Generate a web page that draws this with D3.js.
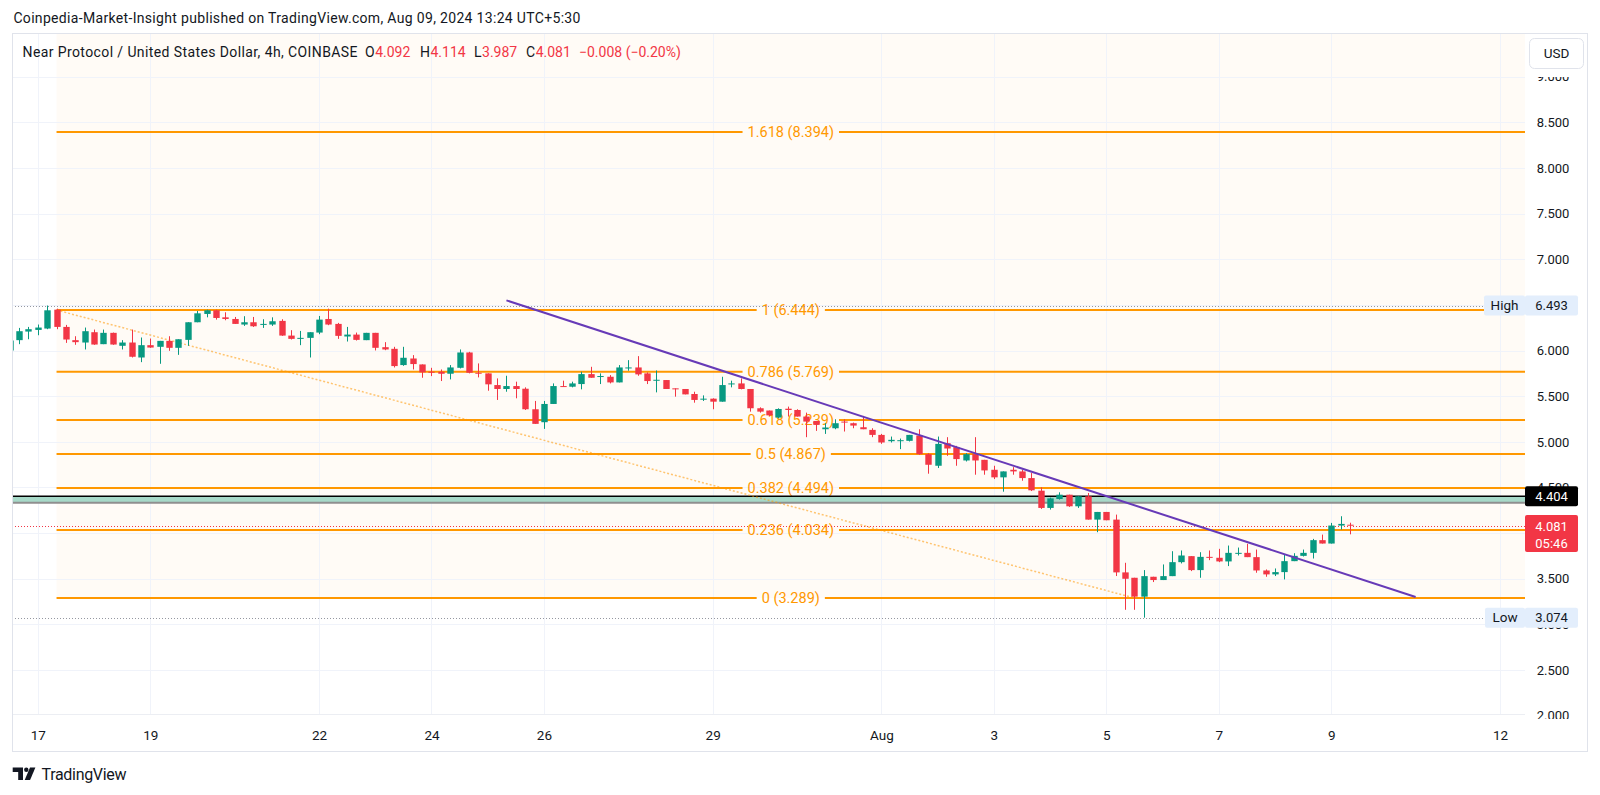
<!DOCTYPE html>
<html><head><meta charset="utf-8">
<script src="https://cdn.jsdelivr.net/npm/d3@7"></script>
<style>
body{margin:0;background:#fff;}
svg{display:block;font-family:Roboto,"Noto Sans",sans-serif;}
</style>
</head><body>
<svg id="c" width="1600" height="795"></svg>
<script>
// ---------- DATA ----------
const times = [
"07-16 12","07-16 16","07-16 20",
"07-17 00","07-17 04","07-17 08","07-17 12","07-17 16","07-17 20",
"07-18 00","07-18 04","07-18 08","07-18 12","07-18 16","07-18 20",
"07-19 00","07-19 04","07-19 08","07-19 12","07-19 16","07-19 20",
"07-20 00","07-20 04","07-20 08","07-20 12","07-20 16","07-20 20",
"07-21 00","07-21 04","07-21 08","07-21 12","07-21 16","07-21 20",
"07-22 00","07-22 04","07-22 08","07-22 12","07-22 16","07-22 20",
"07-23 00","07-23 04","07-23 08","07-23 12","07-23 16","07-23 20",
"07-24 00","07-24 04","07-24 08","07-24 12","07-24 16","07-24 20",
"07-25 00","07-25 04","07-25 08","07-25 12","07-25 16","07-25 20",
"07-26 00","07-26 04","07-26 08","07-26 12","07-26 16","07-26 20",
"07-27 00","07-27 04","07-27 08","07-27 12","07-27 16","07-27 20",
"07-28 00","07-28 04","07-28 08","07-28 12","07-28 16","07-28 20",
"07-29 00","07-29 04","07-29 08","07-29 12","07-29 16","07-29 20",
"07-30 00","07-30 04","07-30 08","07-30 12","07-30 16","07-30 20",
"07-31 00","07-31 04","07-31 08","07-31 12","07-31 16","07-31 20",
"08-01 00","08-01 04","08-01 08","08-01 12","08-01 16","08-01 20",
"08-02 00","08-02 04","08-02 08","08-02 12","08-02 16","08-02 20",
"08-03 00","08-03 04","08-03 08","08-03 12","08-03 16","08-03 20",
"08-04 00","08-04 04","08-04 08","08-04 12","08-04 16","08-04 20",
"08-05 00","08-05 04","08-05 08","08-05 12","08-05 16","08-05 20",
"08-06 00","08-06 04","08-06 08","08-06 12","08-06 16","08-06 20",
"08-07 00","08-07 04","08-07 08","08-07 12","08-07 16","08-07 20",
"08-08 00","08-08 04","08-08 08","08-08 12","08-08 16","08-08 20",
"08-09 00","08-09 04","08-09 08"
];
const open = [
6.000,
6.114,6.208,6.226,6.241,6.448,6.259,6.114,6.088,6.201,6.070,
6.194,6.052,6.088,5.924,6.059,6.041,6.106,6.030,6.117,6.310,
6.401,6.441,6.364,6.346,6.285,6.310,6.281,6.285,6.325,6.164,
6.128,6.139,6.197,6.346,6.292,6.154,6.175,6.114,6.194,6.037,
6.019,5.841,5.913,5.848,5.768,5.768,5.746,5.811,5.979,5.757,
5.750,5.622,5.579,5.611,5.582,5.357,5.215,5.415,5.611,5.604,
5.633,5.742,5.710,5.713,5.651,5.808,5.815,5.750,5.673,5.677,
5.586,5.579,5.524,5.462,5.473,5.440,5.633,5.640,5.579,5.368,
5.343,5.266,5.363,5.349,5.277,5.229,5.138,5.149,5.222,5.204,
5.160,5.131,5.076,5.007,5.011,5.011,5.069,4.865,4.738,4.985,
4.942,4.796,4.865,4.803,4.694,4.611,4.694,4.676,4.603,4.465,
4.276,4.374,4.421,4.294,4.403,4.148,4.232,4.148,3.570,3.511,
3.304,3.522,3.486,3.529,3.682,3.748,3.595,3.740,3.730,3.690,
3.773,3.784,3.737,3.591,3.548,3.573,3.693,3.751,3.784,3.923,
3.886,4.083,4.092
];
const high = [
6.114,
6.248,6.259,6.285,6.493,6.459,6.281,6.157,6.252,6.230,6.230,
6.197,6.114,6.230,6.143,6.132,6.106,6.157,6.124,6.310,6.434,
6.448,6.448,6.419,6.368,6.376,6.368,6.343,6.364,6.343,6.223,
6.215,6.201,6.379,6.459,6.303,6.259,6.197,6.194,6.194,6.092,
6.041,6.041,5.950,5.848,5.811,5.793,5.841,6.012,5.986,5.859,
5.750,5.695,5.724,5.659,5.597,5.448,5.448,5.640,5.670,5.659,
5.768,5.822,5.750,5.731,5.841,5.895,5.939,5.761,5.782,5.677,
5.586,5.579,5.549,5.509,5.477,5.713,5.670,5.695,5.579,5.378,
5.343,5.367,5.386,5.357,5.320,5.229,5.204,5.247,5.247,5.211,
5.284,5.149,5.087,5.058,5.036,5.076,5.138,4.876,5.058,5.051,
4.956,4.876,5.051,4.803,4.738,4.676,4.723,4.694,4.658,4.501,
4.389,4.447,4.421,4.403,4.440,4.232,4.232,4.203,3.675,3.511,
3.595,3.522,3.657,3.802,3.810,3.748,3.791,3.810,3.828,3.864,
3.842,3.883,3.820,3.602,3.613,3.766,3.780,3.820,3.937,3.984,
4.112,4.185,4.114
];
const low = [
5.986,
6.070,6.124,6.168,6.234,6.234,6.084,6.063,6.012,6.063,6.070,
6.063,6.012,5.924,5.873,6.030,5.855,5.997,5.953,6.052,6.310,
6.364,6.339,6.332,6.292,6.270,6.259,6.248,6.270,6.161,6.121,
6.059,5.924,6.179,6.278,6.128,6.099,6.110,6.114,6.001,6.004,
5.815,5.833,5.793,5.702,5.720,5.666,5.684,5.804,5.750,5.706,
5.560,5.459,5.549,5.477,5.349,5.197,5.142,5.415,5.604,5.597,
5.575,5.702,5.633,5.640,5.651,5.779,5.724,5.633,5.542,5.579,
5.495,5.520,5.429,5.448,5.357,5.440,5.597,5.575,5.331,5.320,
5.280,5.258,5.277,5.277,5.051,5.120,5.087,5.138,5.113,5.149,
5.138,5.051,4.978,4.993,4.920,5.004,4.858,4.651,4.713,4.847,
4.738,4.785,4.640,4.640,4.592,4.454,4.640,4.574,4.461,4.265,
4.258,4.367,4.287,4.276,4.148,4.010,4.141,3.530,3.160,3.160,
3.074,3.464,3.486,3.529,3.668,3.584,3.511,3.704,3.682,3.639,
3.755,3.737,3.566,3.522,3.530,3.493,3.693,3.744,3.722,3.886,
3.886,4.039,3.987
];
const close = [
6.110,
6.212,6.234,6.252,6.441,6.259,6.121,6.092,6.212,6.066,6.194,
6.066,6.088,5.932,6.059,6.033,6.106,6.030,6.124,6.310,6.408,
6.441,6.357,6.346,6.292,6.310,6.266,6.292,6.321,6.164,6.128,
6.139,6.201,6.339,6.285,6.161,6.175,6.117,6.194,6.030,6.012,
5.830,5.921,5.852,5.761,5.757,5.746,5.815,5.979,5.757,5.746,
5.630,5.579,5.611,5.579,5.357,5.197,5.415,5.611,5.604,5.640,
5.742,5.702,5.721,5.651,5.815,5.815,5.739,5.666,5.680,5.579,
5.579,5.520,5.459,5.473,5.440,5.622,5.640,5.579,5.368,5.331,
5.290,5.360,5.349,5.277,5.222,5.186,5.157,5.204,5.211,5.178,
5.138,5.076,4.993,5.022,5.018,5.076,4.865,4.749,4.978,4.927,
4.811,4.865,4.796,4.687,4.611,4.676,4.676,4.603,4.469,4.276,
4.381,4.421,4.294,4.403,4.148,4.232,4.141,3.570,3.500,3.304,
3.529,3.486,3.529,3.682,3.755,3.595,3.740,3.730,3.690,3.784,
3.784,3.737,3.591,3.548,3.573,3.693,3.751,3.784,3.923,3.886,
4.083,4.101,4.081
];
const dateTicks = ["2024-07-17","2024-07-19","2024-07-22","2024-07-24","2024-07-26","2024-07-29","2024-08-01","2024-08-03","2024-08-05","2024-08-07","2024-08-09","2024-08-12"];
const dateTickLabels = ["17","19","22","24","26","29","Aug","3","5","7","9","12"];
const priceTicks = [2,2.5,3,3.5,4,4.5,5,5.5,6,6.5,7,7.5,8,8.5,9];
const fibRatios = ["1.618","1","0.786","0.618","0.5","0.382","0.236","0"];
const fibPrices = [8.394,6.444,5.769,5.239,4.867,4.494,4.034,3.289];
const fibStart = "2024-07-17 08";
const fibTrendEnd = "2024-08-05 12";
const trendLine = {from:["2024-07-25 08",6.55], to:["2024-08-10 12",3.30]};
const zoneTop = 4.404, zoneBottom = 4.334;
const highVal = 6.493, lowVal = 3.074, lastPrice = 4.081;
const legendLetters = ["O","H","L","C"];
const legendValues = ["4.092","4.114","3.987","4.081"];
const legendChange = "\u22120.008 (\u22120.20%)";

// ---------- SETUP ----------
const parseT = d3.utcParse("%Y-%m-%d %H");
const tDates = times.map(s => parseT("2024-" + s));
const candles = tDates.map((t,i)=>({t, o:open[i], h:high[i], l:low[i], c:close[i]}));

const svg = d3.select("#c");
const L = 12, R = 1525, T = 33.5, B = 714.5;
const x = d3.scaleUtc().domain([new Date("2024-07-17T00:00:00Z"), new Date("2024-08-12T00:00:00Z")]).range([37.8, 1500]);
const y = d3.scaleLinear().domain([2, 9]).range([715.7, 76.7]);
const GREEN = "#089981", RED = "#f23645", ORANGE = "#ff9800", TXT = "#131722";

const defs = svg.append("defs");
defs.append("clipPath").attr("id","plot").append("rect").attr("x",L).attr("y",T).attr("width",R-L).attr("height",B-T);
defs.append("clipPath").attr("id","paxis").append("rect").attr("x",R).attr("y",77).attr("width",70).attr("height",642);

svg.append("rect").attr("width",1600).attr("height",795).attr("fill","#fff");

const plot = svg.append("g").attr("clip-path","url(#plot)");

// fib background
const fx0 = x(parseT(fibStart));
plot.append("rect").attr("x",fx0).attr("y",T).attr("width",R-fx0).attr("height",y(fibPrices[fibPrices.length-1])-T)
  .attr("fill","rgba(255,152,0,0.035)");

// grid
plot.append("g").selectAll("line").data(priceTicks).join("line")
  .attr("x1",L).attr("x2",R).attr("y1",d=>Math.round(y(d))+0.5).attr("y2",d=>Math.round(y(d))+0.5)
  .attr("stroke","#f0f3fa").attr("stroke-width",1);
const tickDates = dateTicks.map(s=>new Date(s+"T00:00:00Z"));
plot.append("g").selectAll("line").data(tickDates).join("line")
  .attr("y1",T).attr("y2",B).attr("x1",d=>Math.round(x(d))+0.5).attr("x2",d=>Math.round(x(d))+0.5)
  .attr("stroke","#f0f3fa").attr("stroke-width",1);

// fib levels
const fibCx = (fx0 + R)/2;
const fibG = plot.append("g");
fibPrices.forEach((p,i)=>{
  const yy = y(p);
  const txt = fibG.append("text").attr("x",fibCx).attr("y",yy).attr("dy","0.35em")
    .attr("text-anchor","middle").attr("font-size",14.5).attr("fill",ORANGE)
    .text(`${fibRatios[i]} (${p.toFixed(3)})`);
  const w = txt.node().getComputedTextLength();
  fibG.append("line").attr("x1",fx0).attr("x2",fibCx-w/2-5).attr("y1",yy).attr("y2",yy).attr("stroke",ORANGE).attr("stroke-width",2);
  fibG.append("line").attr("x1",fibCx+w/2+5).attr("x2",R).attr("y1",yy).attr("y2",yy).attr("stroke",ORANGE).attr("stroke-width",2);
});

// zone
plot.append("rect").attr("x",L).attr("width",R-L).attr("y",y(zoneTop)).attr("height",y(zoneBottom)-y(zoneTop)).attr("fill","#a7d9c8");
plot.append("line").attr("x1",L).attr("x2",R).attr("y1",y(zoneTop)).attr("y2",y(zoneTop)).attr("stroke","#000").attr("stroke-width",1.5);
plot.append("line").attr("x1",L).attr("x2",R).attr("y1",y(zoneBottom)).attr("y2",y(zoneBottom)).attr("stroke","#8f8f8f").attr("stroke-width",2);

// high/low/last dotted lines
[highVal, lowVal].forEach(v=>{
  plot.append("line").attr("x1",L).attr("x2",1484).attr("y1",Math.round(y(v))+0.5).attr("y2",Math.round(y(v))+0.5)
    .attr("stroke","#9598a1").attr("stroke-width",1).attr("stroke-dasharray","1,2");
});
plot.append("line").attr("x1",L).attr("x2",R).attr("y1",Math.round(y(lastPrice))+0.5).attr("y2",Math.round(y(lastPrice))+0.5)
  .attr("stroke",RED).attr("stroke-width",1).attr("stroke-dasharray","1,2");

// fib trend dotted line
plot.append("line").attr("x1",fx0).attr("y1",y(fibPrices[1])).attr("x2",x(parseT(fibTrendEnd))).attr("y2",y(fibPrices[7]))
  .attr("stroke","rgba(255,152,0,0.55)").attr("stroke-width",1.5).attr("stroke-dasharray","2,2");

// candles
const cg = plot.append("g");
const bw = 6.4;
cg.selectAll("line").data(candles).join("line")
  .attr("x1",d=>Math.round(x(d.t))+0.5).attr("x2",d=>Math.round(x(d.t))+0.5)
  .attr("y1",d=>y(d.h)).attr("y2",d=>y(d.l))
  .attr("stroke",d=>d.c>=d.o?GREEN:RED).attr("stroke-width",1);
cg.selectAll("rect").data(candles).join("rect")
  .attr("x",d=>Math.round(x(d.t))+0.5-bw/2).attr("width",bw)
  .attr("y",d=>y(Math.max(d.o,d.c))).attr("height",d=>Math.max(1,Math.abs(y(d.o)-y(d.c))))
  .attr("fill",d=>d.c>=d.o?GREEN:RED);

// purple trendline
plot.append("line")
  .attr("x1",x(parseT(trendLine.from[0]))).attr("y1",y(trendLine.from[1]))
  .attr("x2",x(parseT(trendLine.to[0]))).attr("y2",y(trendLine.to[1]))
  .attr("stroke","#673ab7").attr("stroke-width",2);

// x axis bottom line
svg.append("line").attr("x1",L).attr("x2",R).attr("y1",B).attr("y2",B).attr("stroke","#eceef3");

// pane border
svg.append("rect").attr("x",12.5).attr("y",33.5).attr("width",1575).attr("height",718).attr("fill","none").attr("stroke","#e0e3eb");

// price axis (labels fully hidden behind value boxes are skipped)
const hiddenTicks = [4, 6.5];
const pax = svg.append("g").attr("clip-path","url(#paxis)");
const yAxisG = pax.append("g").attr("transform","translate(1553,0)")
  .call(d3.axisRight(y).tickValues(priceTicks.filter(v=>!hiddenTicks.includes(v))).tickFormat(d3.format(".3f")).tickSize(0).tickPadding(0));
yAxisG.select(".domain").remove();
yAxisG.selectAll("text").attr("text-anchor","middle").attr("font-size",13).attr("fill",TXT)
  .attr("font-family",'Roboto,"Noto Sans",sans-serif');

// x axis
const xAxisG = svg.append("g").attr("transform","translate(0,730)")
  .call(d3.axisBottom(x).tickValues(tickDates).tickFormat((d,i)=>dateTickLabels[i]).tickSize(0).tickPadding(0));
xAxisG.select(".domain").remove();
xAxisG.selectAll("text").attr("font-size",13.5).attr("fill",TXT).attr("font-family",'Roboto,"Noto Sans",sans-serif');

// axis value boxes
function box(x0,w,yc,h,fill,txt,col,sz){
  svg.append("rect").attr("x",x0).attr("y",yc-h/2).attr("width",w).attr("height",h).attr("rx",2).attr("fill",fill);
  svg.append("text").attr("x",x0+w/2).attr("y",yc).attr("dy","0.35em").attr("text-anchor","middle")
    .attr("font-size",sz||13).attr("fill",col).text(txt);
}
box(1484,41,y(highVal),20,"#e3eefc","High",TXT,13.5);
box(1525,53,y(highVal),20,"#e3eefc",highVal.toFixed(3),TXT);
box(1485,40,y(lowVal),20,"#e3eefc","Low",TXT,13.5);
box(1525,53,y(lowVal),20,"#e3eefc",lowVal.toFixed(3),TXT);
box(1525,53,y(zoneTop),20,"#000",zoneTop.toFixed(3),"#fff");
svg.append("rect").attr("x",1525).attr("y",515).attr("width",53).attr("height",37).attr("rx",2).attr("fill",RED);
svg.append("text").attr("x",1551.5).attr("y",526.5).attr("dy","0.35em").attr("text-anchor","middle").attr("font-size",13).attr("fill","#fff").text(lastPrice.toFixed(3));
svg.append("text").attr("x",1551.5).attr("y",543).attr("dy","0.35em").attr("text-anchor","middle").attr("font-size",13).attr("fill","#fff").text("05:46");

// USD button
svg.append("rect").attr("x",1529.5).attr("y",38.5).attr("width",54).attr("height",30).attr("rx",5).attr("fill","#fff").attr("stroke","#e0e3eb");
svg.append("text").attr("x",1556.5).attr("y",53.5).attr("dy","0.35em").attr("text-anchor","middle").attr("font-size",13.5).attr("fill",TXT).text("USD");

// header
svg.append("text").attr("x",13.4).attr("y",23).attr("font-size",14).attr("fill",TXT)
  .attr("textLength",567).attr("lengthAdjust","spacing")
  .text("Coinpedia-Market-Insight published on TradingView.com, Aug 09, 2024 13:24 UTC+5:30");

// legend
const lg = svg.append("g").attr("font-size",14);
lg.append("text").attr("x",22.5).attr("y",57).attr("fill",TXT).attr("textLength",335).attr("lengthAdjust","spacing")
  .text("Near Protocol / United States Dollar, 4h, COINBASE");
const letterX = [365, 420, 474, 526];
legendLetters.forEach((s,i)=>{
  const t = lg.append("text").attr("x",letterX[i]).attr("y",57).attr("fill",TXT).text(s);
  const w = t.node().getComputedTextLength();
  lg.append("text").attr("x",letterX[i]+w+0.5).attr("y",57).attr("fill",RED).text(legendValues[i]);
});
lg.append("text").attr("x",579).attr("y",57).attr("fill",RED).text(legendChange);

// TradingView logo
const logo = svg.append("g").attr("fill",TXT);
logo.append("path").attr("d","M12.7,767.5 h10.3 v12.5 h-4.8 v-8 h-5.5 z");
logo.append("circle").attr("cx",26.3).attr("cy",769.7).attr("r",2.2);
logo.append("path").attr("d","M30,767.5 h5.4 l-5.3,12.5 h-5.4 z");
svg.append("text").attr("x",41.5).attr("y",780).attr("font-size",16).attr("fill",TXT)
  .attr("textLength",85).attr("lengthAdjust","spacing").text("TradingView");
</script>
</body></html>
